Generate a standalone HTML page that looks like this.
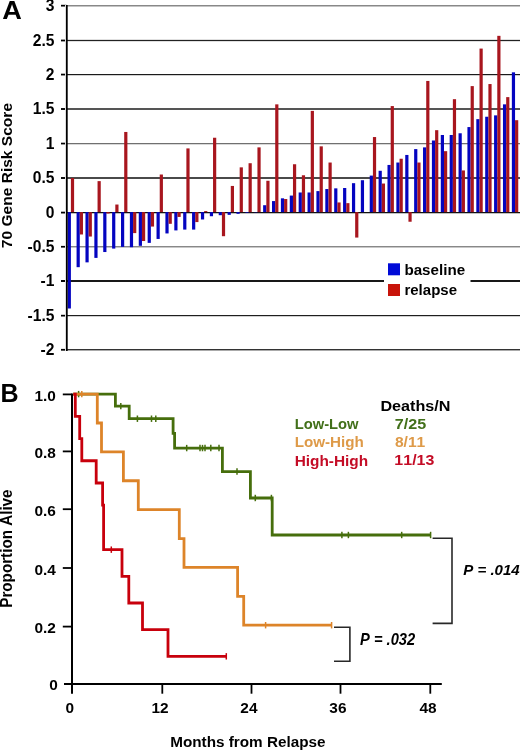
<!DOCTYPE html>
<html><head><meta charset="utf-8"><style>
html,body{margin:0;padding:0;background:#fff;}
svg{display:block;font-family:"Liberation Sans",sans-serif;font-kerning:none;will-change:transform;}
</style></head><body>
<svg width="520" height="751" viewBox="0 0 520 751">
<rect width="520" height="751" fill="#fff"/>
<rect x="61" y="5" width="459" height="1" fill="#888" shape-rendering="crispEdges"/>
<rect x="61" y="6" width="459" height="1" fill="#c4c4c4" shape-rendering="crispEdges"/>
<rect x="61" y="40" width="459" height="1" fill="#222" shape-rendering="crispEdges"/>
<rect x="61" y="39" width="459" height="1" fill="#e0e0e0" shape-rendering="crispEdges"/>
<rect x="61" y="41" width="459" height="1" fill="#e0e0e0" shape-rendering="crispEdges"/>
<rect x="61" y="74" width="459" height="1" fill="#1a1a1a" shape-rendering="crispEdges"/>
<rect x="61" y="75" width="459" height="1" fill="#d0d0d0" shape-rendering="crispEdges"/>
<rect x="61" y="108" width="459" height="1" fill="#555" shape-rendering="crispEdges"/>
<rect x="61" y="109" width="459" height="1" fill="#555" shape-rendering="crispEdges"/>
<rect x="61" y="143" width="459" height="1" fill="#707070" shape-rendering="crispEdges"/>
<rect x="61" y="144" width="459" height="1" fill="#d8d8d8" shape-rendering="crispEdges"/>
<rect x="61" y="177" width="459" height="1" fill="#4a4a4a" shape-rendering="crispEdges"/>
<rect x="61" y="178" width="459" height="1" fill="#4a4a4a" shape-rendering="crispEdges"/>
<rect x="61" y="212" width="459" height="1" fill="#111" shape-rendering="crispEdges"/>
<rect x="61" y="213" width="459" height="1" fill="#c0c0c0" shape-rendering="crispEdges"/>
<rect x="61" y="246" width="459" height="1" fill="#888" shape-rendering="crispEdges"/>
<rect x="61" y="247" width="459" height="1" fill="#c8c8c8" shape-rendering="crispEdges"/>
<rect x="61" y="280" width="459" height="1" fill="#181818" shape-rendering="crispEdges"/>
<rect x="61" y="281" width="459" height="1" fill="#181818" shape-rendering="crispEdges"/>
<rect x="61" y="315" width="459" height="1" fill="#1e1e1e" shape-rendering="crispEdges"/>
<rect x="61" y="316" width="459" height="1" fill="#d0d0d0" shape-rendering="crispEdges"/>
<rect x="61" y="349" width="459" height="1" fill="#333" shape-rendering="crispEdges"/>
<rect x="61" y="350" width="459" height="1" fill="#aaa" shape-rendering="crispEdges"/>
<rect x="67.70" y="212.10" width="3.2" height="96.39" fill="#0404c0"/>
<rect x="70.90" y="178.02" width="3.2" height="34.08" fill="#a8161e"/>
<rect x="76.58" y="212.10" width="3.2" height="55.08" fill="#0404c0"/>
<rect x="79.78" y="212.10" width="3.2" height="22.38" fill="#a8161e"/>
<rect x="85.47" y="212.10" width="3.2" height="50.26" fill="#0404c0"/>
<rect x="88.67" y="212.10" width="3.2" height="24.44" fill="#a8161e"/>
<rect x="94.35" y="212.10" width="3.2" height="45.79" fill="#0404c0"/>
<rect x="97.55" y="181.12" width="3.2" height="30.98" fill="#a8161e"/>
<rect x="103.23" y="212.10" width="3.2" height="39.93" fill="#0404c0"/>
<rect x="106.43" y="212.10" width="3.2" height="1.38" fill="#a8161e"/>
<rect x="112.11" y="212.10" width="3.2" height="36.49" fill="#0404c0"/>
<rect x="115.31" y="204.53" width="3.2" height="7.57" fill="#a8161e"/>
<rect x="121.00" y="212.10" width="3.2" height="34.77" fill="#0404c0"/>
<rect x="124.20" y="131.96" width="3.2" height="80.14" fill="#a8161e"/>
<rect x="129.88" y="212.10" width="3.2" height="35.11" fill="#0404c0"/>
<rect x="133.08" y="212.10" width="3.2" height="21.00" fill="#a8161e"/>
<rect x="138.76" y="212.10" width="3.2" height="33.74" fill="#0404c0"/>
<rect x="141.96" y="212.10" width="3.2" height="28.92" fill="#a8161e"/>
<rect x="147.65" y="212.10" width="3.2" height="30.78" fill="#0404c0"/>
<rect x="150.85" y="212.10" width="3.2" height="14.46" fill="#a8161e"/>
<rect x="156.53" y="212.10" width="3.2" height="26.85" fill="#0404c0"/>
<rect x="159.73" y="174.51" width="3.2" height="37.59" fill="#a8161e"/>
<rect x="165.41" y="212.10" width="3.2" height="21.34" fill="#0404c0"/>
<rect x="168.61" y="212.10" width="3.2" height="11.70" fill="#a8161e"/>
<rect x="174.30" y="212.10" width="3.2" height="18.31" fill="#0404c0"/>
<rect x="177.50" y="212.10" width="3.2" height="4.82" fill="#a8161e"/>
<rect x="183.18" y="212.10" width="3.2" height="17.49" fill="#0404c0"/>
<rect x="186.38" y="148.41" width="3.2" height="63.69" fill="#a8161e"/>
<rect x="192.06" y="212.10" width="3.2" height="17.49" fill="#0404c0"/>
<rect x="195.26" y="212.10" width="3.2" height="9.98" fill="#a8161e"/>
<rect x="200.94" y="212.10" width="3.2" height="7.37" fill="#0404c0"/>
<rect x="204.14" y="211.07" width="3.2" height="1.03" fill="#a8161e"/>
<rect x="209.83" y="212.10" width="3.2" height="4.13" fill="#0404c0"/>
<rect x="213.03" y="137.74" width="3.2" height="74.36" fill="#a8161e"/>
<rect x="218.71" y="212.10" width="3.2" height="3.10" fill="#0404c0"/>
<rect x="221.91" y="212.10" width="3.2" height="24.10" fill="#a8161e"/>
<rect x="227.59" y="212.10" width="3.2" height="2.75" fill="#0404c0"/>
<rect x="230.79" y="185.94" width="3.2" height="26.16" fill="#a8161e"/>
<rect x="236.48" y="212.10" width="3.2" height="1.72" fill="#0404c0"/>
<rect x="239.68" y="167.35" width="3.2" height="44.75" fill="#a8161e"/>
<rect x="245.36" y="212.10" width="3.2" height="0.69" fill="#0404c0"/>
<rect x="248.56" y="163.22" width="3.2" height="48.88" fill="#a8161e"/>
<rect x="254.24" y="212.10" width="3.2" height="0.34" fill="#0404c0"/>
<rect x="257.44" y="147.38" width="3.2" height="64.72" fill="#a8161e"/>
<rect x="263.13" y="205.22" width="3.2" height="6.88" fill="#0404c0"/>
<rect x="266.33" y="180.77" width="3.2" height="31.33" fill="#a8161e"/>
<rect x="272.01" y="201.08" width="3.2" height="11.02" fill="#0404c0"/>
<rect x="275.21" y="104.35" width="3.2" height="107.75" fill="#a8161e"/>
<rect x="280.89" y="198.33" width="3.2" height="13.77" fill="#0404c0"/>
<rect x="284.09" y="199.02" width="3.2" height="13.08" fill="#a8161e"/>
<rect x="289.77" y="195.58" width="3.2" height="16.52" fill="#0404c0"/>
<rect x="292.97" y="164.25" width="3.2" height="47.85" fill="#a8161e"/>
<rect x="298.66" y="192.48" width="3.2" height="19.62" fill="#0404c0"/>
<rect x="301.86" y="175.27" width="3.2" height="36.83" fill="#a8161e"/>
<rect x="307.54" y="192.48" width="3.2" height="19.62" fill="#0404c0"/>
<rect x="310.74" y="110.89" width="3.2" height="101.21" fill="#a8161e"/>
<rect x="316.42" y="191.10" width="3.2" height="21.00" fill="#0404c0"/>
<rect x="319.62" y="146.35" width="3.2" height="65.75" fill="#a8161e"/>
<rect x="325.31" y="189.04" width="3.2" height="23.06" fill="#0404c0"/>
<rect x="328.51" y="162.53" width="3.2" height="49.57" fill="#a8161e"/>
<rect x="334.19" y="188.35" width="3.2" height="23.75" fill="#0404c0"/>
<rect x="337.39" y="202.46" width="3.2" height="9.64" fill="#a8161e"/>
<rect x="343.07" y="188.00" width="3.2" height="24.10" fill="#0404c0"/>
<rect x="346.27" y="203.15" width="3.2" height="8.95" fill="#a8161e"/>
<rect x="351.96" y="183.18" width="3.2" height="28.92" fill="#0404c0"/>
<rect x="355.16" y="212.10" width="3.2" height="25.47" fill="#a8161e"/>
<rect x="360.84" y="180.22" width="3.2" height="31.88" fill="#0404c0"/>
<rect x="369.72" y="175.61" width="3.2" height="36.49" fill="#0404c0"/>
<rect x="372.92" y="137.05" width="3.2" height="75.05" fill="#a8161e"/>
<rect x="378.60" y="170.79" width="3.2" height="41.31" fill="#0404c0"/>
<rect x="381.80" y="183.53" width="3.2" height="28.57" fill="#a8161e"/>
<rect x="387.49" y="164.94" width="3.2" height="47.16" fill="#0404c0"/>
<rect x="390.69" y="106.07" width="3.2" height="106.03" fill="#a8161e"/>
<rect x="396.37" y="162.53" width="3.2" height="49.57" fill="#0404c0"/>
<rect x="399.57" y="158.74" width="3.2" height="53.36" fill="#a8161e"/>
<rect x="405.25" y="154.95" width="3.2" height="57.15" fill="#0404c0"/>
<rect x="408.45" y="212.10" width="3.2" height="9.64" fill="#a8161e"/>
<rect x="414.14" y="149.10" width="3.2" height="63.00" fill="#0404c0"/>
<rect x="417.34" y="162.53" width="3.2" height="49.57" fill="#a8161e"/>
<rect x="423.02" y="147.38" width="3.2" height="64.72" fill="#0404c0"/>
<rect x="426.22" y="80.94" width="3.2" height="131.16" fill="#a8161e"/>
<rect x="431.90" y="140.50" width="3.2" height="71.60" fill="#0404c0"/>
<rect x="435.10" y="130.17" width="3.2" height="81.93" fill="#a8161e"/>
<rect x="440.79" y="134.99" width="3.2" height="77.11" fill="#0404c0"/>
<rect x="443.99" y="151.17" width="3.2" height="60.93" fill="#a8161e"/>
<rect x="449.67" y="134.99" width="3.2" height="77.11" fill="#0404c0"/>
<rect x="452.87" y="99.19" width="3.2" height="112.91" fill="#a8161e"/>
<rect x="458.55" y="133.27" width="3.2" height="78.83" fill="#0404c0"/>
<rect x="461.75" y="170.45" width="3.2" height="41.65" fill="#a8161e"/>
<rect x="467.43" y="127.07" width="3.2" height="85.03" fill="#0404c0"/>
<rect x="470.63" y="86.10" width="3.2" height="126.00" fill="#a8161e"/>
<rect x="476.32" y="119.15" width="3.2" height="92.95" fill="#0404c0"/>
<rect x="479.52" y="48.58" width="3.2" height="163.52" fill="#a8161e"/>
<rect x="485.20" y="116.74" width="3.2" height="95.36" fill="#0404c0"/>
<rect x="488.40" y="84.04" width="3.2" height="128.06" fill="#a8161e"/>
<rect x="494.08" y="115.37" width="3.2" height="96.73" fill="#0404c0"/>
<rect x="497.28" y="35.84" width="3.2" height="176.26" fill="#a8161e"/>
<rect x="502.97" y="104.35" width="3.2" height="107.75" fill="#0404c0"/>
<rect x="506.17" y="97.12" width="3.2" height="114.98" fill="#a8161e"/>
<rect x="511.85" y="72.33" width="3.2" height="139.77" fill="#0404c0"/>
<rect x="515.05" y="120.19" width="3.2" height="91.91" fill="#a8161e"/>
<rect x="66" y="5" width="1" height="346" fill="#000" shape-rendering="crispEdges"/>
<rect x="67" y="5" width="1" height="346" fill="#000" opacity="0.7" shape-rendering="crispEdges"/>
<rect x="61" y="4.80" width="5.5" height="1.6" fill="#000"/>
<rect x="61" y="39.70" width="5.5" height="1.6" fill="#000"/>
<rect x="61" y="73.70" width="5.5" height="1.6" fill="#000"/>
<rect x="61" y="108.20" width="5.5" height="1.6" fill="#000"/>
<rect x="61" y="142.70" width="5.5" height="1.6" fill="#000"/>
<rect x="61" y="177.20" width="5.5" height="1.6" fill="#000"/>
<rect x="61" y="211.70" width="5.5" height="1.6" fill="#000"/>
<rect x="61" y="245.90" width="5.5" height="1.6" fill="#000"/>
<rect x="61" y="280.20" width="5.5" height="1.6" fill="#000"/>
<rect x="61" y="314.80" width="5.5" height="1.6" fill="#000"/>
<rect x="61" y="348.90" width="5.5" height="1.6" fill="#000"/>
<rect x="65" y="5" width="1" height="346" fill="#ddd" shape-rendering="crispEdges"/>
<rect x="384" y="258" width="86.5" height="42" fill="#fff"/>
<rect x="388" y="263.3" width="12" height="12" fill="#000ad7"/>
<rect x="388" y="284" width="12" height="12" fill="#c8140a"/>
<text x="404.40" y="274.80" font-size="14.90" font-weight="bold" font-style="normal" fill="#000" textLength="60.72" lengthAdjust="spacingAndGlyphs">baseline</text>
<text x="404.41" y="295.00" font-size="14.90" font-weight="bold" font-style="normal" fill="#000" textLength="52.60" lengthAdjust="spacingAndGlyphs">relapse</text>
<text x="54.4" y="10.94" font-size="15.6" font-weight="bold" text-anchor="end" fill="#000">3</text>
<text x="54.4" y="45.94" font-size="15.6" font-weight="bold" text-anchor="end" fill="#000">2.5</text>
<text x="54.4" y="79.94" font-size="15.6" font-weight="bold" text-anchor="end" fill="#000">2</text>
<text x="54.4" y="114.44" font-size="15.6" font-weight="bold" text-anchor="end" fill="#000">1.5</text>
<text x="54.4" y="148.74" font-size="15.6" font-weight="bold" text-anchor="end" fill="#000">1</text>
<text x="54.4" y="183.44" font-size="15.6" font-weight="bold" text-anchor="end" fill="#000">0.5</text>
<text x="54.4" y="217.94" font-size="15.6" font-weight="bold" text-anchor="end" fill="#000">0</text>
<text x="54.4" y="252.14" font-size="15.6" font-weight="bold" text-anchor="end" fill="#000">-0.5</text>
<text x="54.4" y="286.44" font-size="15.6" font-weight="bold" text-anchor="end" fill="#000">-1</text>
<text x="54.4" y="321.04" font-size="15.6" font-weight="bold" text-anchor="end" fill="#000">-1.5</text>
<text x="54.4" y="355.14" font-size="15.6" font-weight="bold" text-anchor="end" fill="#000">-2</text>
<text x="2.22" y="18.75" font-size="25.95" font-weight="bold" font-style="normal" fill="#000" textLength="19.59" lengthAdjust="spacingAndGlyphs">A</text>
<g transform="translate(11.9,247.5) rotate(-90)"><text x="-0.67" y="0.00" font-size="15.55" font-weight="bold" font-style="normal" fill="#000" textLength="145.20" lengthAdjust="spacingAndGlyphs">70 Gene Risk Score</text></g>
<line x1="72" y1="393.5" x2="72" y2="693.7" stroke="#000" stroke-width="2"/>
<line x1="64" y1="683.9" x2="441.8" y2="683.9" stroke="#000" stroke-width="2"/>
<line x1="62.8" y1="394.40" x2="71.8" y2="394.40" stroke="#000" stroke-width="1.8"/>
<line x1="62.8" y1="451.40" x2="71.8" y2="451.40" stroke="#000" stroke-width="1.8"/>
<line x1="62.8" y1="509.20" x2="71.8" y2="509.20" stroke="#000" stroke-width="1.8"/>
<line x1="62.8" y1="568.00" x2="71.8" y2="568.00" stroke="#000" stroke-width="1.8"/>
<line x1="62.8" y1="626.60" x2="71.8" y2="626.60" stroke="#000" stroke-width="1.8"/>
<line x1="162.3" y1="683.5" x2="162.3" y2="693.7" stroke="#000" stroke-width="1.8"/>
<line x1="251.5" y1="683.5" x2="251.5" y2="693.7" stroke="#000" stroke-width="1.8"/>
<line x1="340.5" y1="683.5" x2="340.5" y2="693.7" stroke="#000" stroke-width="1.8"/>
<line x1="430.3" y1="683.5" x2="430.3" y2="693.7" stroke="#000" stroke-width="1.8"/>
<text x="55.9" y="400.99" font-size="15.4" font-weight="bold" text-anchor="end" fill="#000">1.0</text>
<text x="55.9" y="458.19" font-size="15.4" font-weight="bold" text-anchor="end" fill="#000">0.8</text>
<text x="55.9" y="516.09" font-size="15.4" font-weight="bold" text-anchor="end" fill="#000">0.6</text>
<text x="55.9" y="575.24" font-size="15.4" font-weight="bold" text-anchor="end" fill="#000">0.4</text>
<text x="55.9" y="632.99" font-size="15.4" font-weight="bold" text-anchor="end" fill="#000">0.2</text>
<text x="57.9" y="690.29" font-size="15.4" font-weight="bold" text-anchor="end" fill="#000">0</text>
<text x="69.7" y="713" font-size="15.4" font-weight="bold" text-anchor="middle" fill="#000">0</text>
<text x="160.0" y="713" font-size="15.4" font-weight="bold" text-anchor="middle" fill="#000">12</text>
<text x="248.9" y="713" font-size="15.4" font-weight="bold" text-anchor="middle" fill="#000">24</text>
<text x="337.9" y="713" font-size="15.4" font-weight="bold" text-anchor="middle" fill="#000">36</text>
<text x="428.1" y="713" font-size="15.4" font-weight="bold" text-anchor="middle" fill="#000">48</text>
<text x="0.62" y="401.80" font-size="26.02" font-weight="bold" font-style="normal" fill="#000" textLength="18.12" lengthAdjust="spacingAndGlyphs">B</text>
<text x="170.23" y="747.20" font-size="14.68" font-weight="bold" font-style="normal" fill="#000" textLength="155.29" lengthAdjust="spacingAndGlyphs">Months from Relapse</text>
<g transform="translate(12.2,606.7) rotate(-90)"><text x="-1.02" y="0.00" font-size="15.84" font-weight="bold" font-style="normal" fill="#000" textLength="118.24" lengthAdjust="spacingAndGlyphs">Proportion Alive</text></g>
<path d="M73.3,394.1 L115.4,394.1 L115.4,406.15 L129.2,406.15 L129.2,418.71 L173.1,418.71 L173.1,433.39 L174.6,433.39 L174.6,448.07 L222.4,448.07 L222.4,471.55 L250.4,471.55 L250.4,497.99 L272.2,497.99 L272.2,535.0 L430.6,535.0" fill="none" stroke="#466e0c" stroke-width="2.8" stroke-linejoin="miter"/>
<line x1="78.6" y1="390.90" x2="78.6" y2="397.30" stroke="#466e0c" stroke-width="1.5"/>
<line x1="120.8" y1="402.95" x2="120.8" y2="409.35" stroke="#466e0c" stroke-width="1.5"/>
<line x1="137.4" y1="415.51" x2="137.4" y2="421.91" stroke="#466e0c" stroke-width="1.5"/>
<line x1="151.5" y1="415.51" x2="151.5" y2="421.91" stroke="#466e0c" stroke-width="1.5"/>
<line x1="155.8" y1="415.51" x2="155.8" y2="421.91" stroke="#466e0c" stroke-width="1.5"/>
<line x1="186.7" y1="444.87" x2="186.7" y2="451.27" stroke="#466e0c" stroke-width="1.5"/>
<line x1="200" y1="444.87" x2="200" y2="451.27" stroke="#466e0c" stroke-width="1.5"/>
<line x1="202.5" y1="444.87" x2="202.5" y2="451.27" stroke="#466e0c" stroke-width="1.5"/>
<line x1="205" y1="444.87" x2="205" y2="451.27" stroke="#466e0c" stroke-width="1.5"/>
<line x1="210.8" y1="444.87" x2="210.8" y2="451.27" stroke="#466e0c" stroke-width="1.5"/>
<line x1="219" y1="444.87" x2="219" y2="451.27" stroke="#466e0c" stroke-width="1.5"/>
<line x1="237" y1="468.35" x2="237" y2="474.75" stroke="#466e0c" stroke-width="1.5"/>
<line x1="255.3" y1="494.79" x2="255.3" y2="501.19" stroke="#466e0c" stroke-width="1.5"/>
<line x1="271.4" y1="494.79" x2="271.4" y2="501.19" stroke="#466e0c" stroke-width="1.5"/>
<line x1="341.9" y1="531.80" x2="341.9" y2="538.20" stroke="#466e0c" stroke-width="1.5"/>
<line x1="348.4" y1="531.80" x2="348.4" y2="538.20" stroke="#466e0c" stroke-width="1.5"/>
<line x1="401.7" y1="531.80" x2="401.7" y2="538.20" stroke="#466e0c" stroke-width="1.5"/>
<line x1="430.6" y1="531.80" x2="430.6" y2="538.20" stroke="#466e0c" stroke-width="1.5"/>
<path d="M73.3,394.1 L97.3,394.1 L97.3,422.99 L101.5,422.99 L101.5,451.88 L123.4,451.88 L123.4,480.77 L138.3,480.77 L138.3,509.66 L179.3,509.66 L179.3,538.55 L184.0,538.55 L184.0,567.44 L237.6,567.44 L237.6,596.33 L243.7,596.33 L243.7,625.22 L331.6,625.22" fill="none" stroke="#dd8429" stroke-width="2.8" stroke-linejoin="miter"/>
<line x1="81.8" y1="390.90" x2="81.8" y2="397.30" stroke="#dd8429" stroke-width="1.5"/>
<line x1="265.6" y1="622.02" x2="265.6" y2="628.42" stroke="#dd8429" stroke-width="1.5"/>
<line x1="331.6" y1="622.02" x2="331.6" y2="628.42" stroke="#dd8429" stroke-width="1.5"/>
<path d="M73.3,394.1 L75.3,394.1 L75.3,416.32 L79.7,416.32 L79.7,438.55 L81.8,438.55 L81.8,460.77 L96.2,460.77 L96.2,482.99 L102.6,482.99 L102.6,505.22 L103.6,505.22 L103.6,549.66 L122.0,549.66 L122.0,576.34 L128.8,576.34 L128.8,603.0 L142.5,603.0 L142.5,629.67 L168.0,629.67 L168.0,656.33 L226.3,656.33" fill="none" stroke="#c8000c" stroke-width="2.8" stroke-linejoin="miter"/>
<line x1="111.3" y1="546.46" x2="111.3" y2="552.86" stroke="#c8000c" stroke-width="1.5"/>
<line x1="226.3" y1="653.13" x2="226.3" y2="659.53" stroke="#c8000c" stroke-width="1.5"/>
<path d="M334,627.3 H349.9 V661.25 H334" fill="none" stroke="#282828" stroke-width="1.6"/>
<path d="M432.6,538.3 H452 V623.35 H432.6" fill="none" stroke="#282828" stroke-width="1.6"/>
<text x="360.04" y="645.00" font-size="16.72" font-weight="bold" font-style="italic" fill="#000" textLength="55.11" lengthAdjust="spacingAndGlyphs">P = .032</text>
<text x="463.24" y="575.00" font-size="15.41" font-weight="bold" font-style="italic" fill="#000" textLength="56.42" lengthAdjust="spacingAndGlyphs">P = .014</text>
<text x="380.42" y="411.30" font-size="15.41" font-weight="bold" font-style="normal" fill="#000" textLength="70.07" lengthAdjust="spacingAndGlyphs">Deaths/N</text>
<text x="294.71" y="428.70" font-size="14.97" font-weight="bold" font-style="normal" fill="#42701a" textLength="63.86" lengthAdjust="spacingAndGlyphs">Low-Low</text>
<text x="394.71" y="428.50" font-size="14.04" font-weight="bold" font-style="normal" fill="#42701a" textLength="31.44" lengthAdjust="spacingAndGlyphs">7/25</text>
<text x="294.68" y="446.90" font-size="15.12" font-weight="bold" font-style="normal" fill="#de9a48" textLength="69.16" lengthAdjust="spacingAndGlyphs">Low-High</text>
<text x="394.90" y="447.30" font-size="15.19" font-weight="bold" font-style="normal" fill="#de9a48" textLength="30.43" lengthAdjust="spacingAndGlyphs">8/11</text>
<text x="294.67" y="466.00" font-size="15.12" font-weight="bold" font-style="normal" fill="#c40c26" textLength="73.48" lengthAdjust="spacingAndGlyphs">High-High</text>
<text x="394.39" y="465.30" font-size="14.24" font-weight="bold" font-style="normal" fill="#c40c26" textLength="39.98" lengthAdjust="spacingAndGlyphs">11/13</text>
</svg>
</body></html>
